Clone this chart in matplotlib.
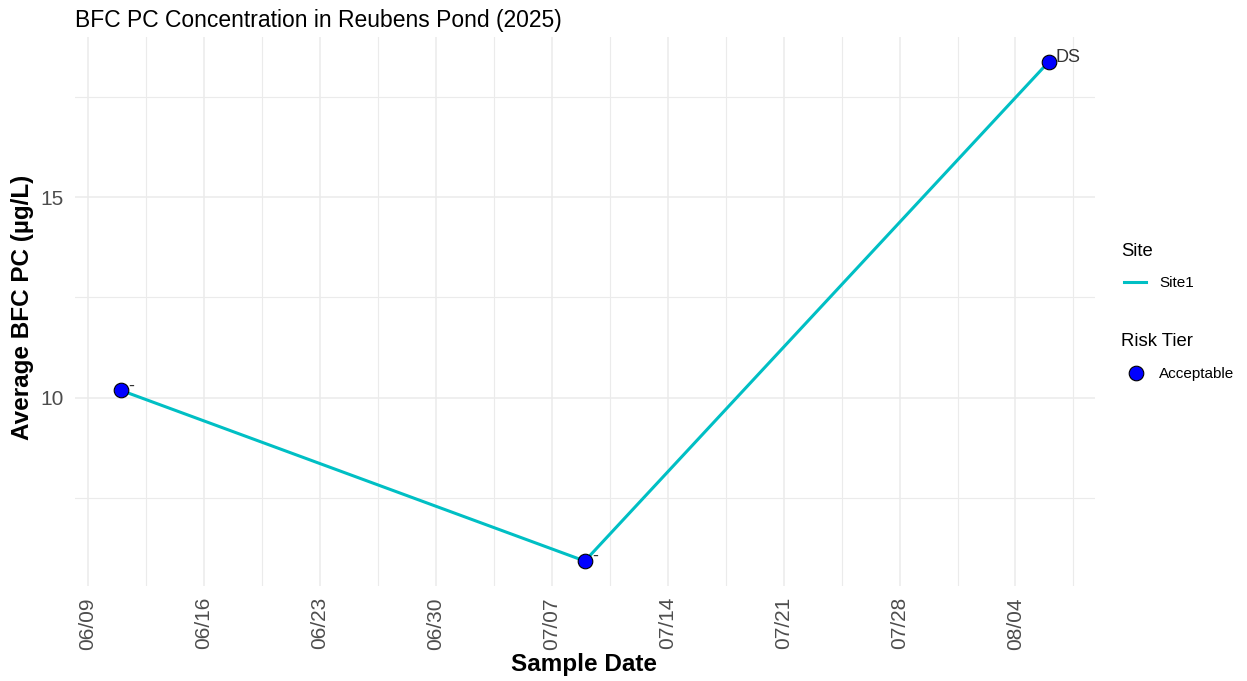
import datetime as dt
import numpy as np
import matplotlib
matplotlib.use("Agg")
import matplotlib.pyplot as plt
import matplotlib.dates as mdates
from matplotlib.lines import Line2D

# data
sample_dates = [dt.date(2025, 6, 11), dt.date(2025, 7, 9), dt.date(2025, 8, 6)]
avg_pc = [10.18, 5.92, 18.38]
point_labels = ["-", "-", "DS"]
site_name = "Site1"
risk_tier = "Acceptable"

plt.rcParams['font.family'] = ['Liberation Sans', 'DejaVu Sans']

W, H = 1247, 681
fig = plt.figure(figsize=(W / 100, H / 100), dpi=100)

# panel in pixel coordinates
left, right, top, bottom = 74.7, 1095, 37, 586
ax = fig.add_axes([left / W, 1 - bottom / H, (right - left) / W, (bottom - top) / H])

x = mdates.date2num(sample_dates)
y = np.array(avg_pc)

# ggplot-like 5% expansion
xr = x.max() - x.min()
yr = y.max() - y.min()

line_col = "#00BFC4"
ax.plot(x, y, color=line_col, lw=2.2, zorder=3, solid_capstyle='butt')
ax.plot(x, y, 'o', ms=10.5, mfc="#0000FF", mec="black", mew=0.8, zorder=4)
for xi, yi, lab in zip(x, y, point_labels):
    ax.annotate(lab, (xi, yi), xytext=(7, 0), textcoords='offset pixels',
                ha='left', va='baseline', fontsize=13, color="#333333", zorder=5)

# ticks and grid
ax.xaxis.set_major_locator(mdates.WeekdayLocator(byweekday=mdates.MO))
ax.xaxis.set_major_formatter(mdates.DateFormatter("%m/%d"))
ax.set_xlim(x.min() - 0.05 * xr, x.max() + 0.05 * xr)
major = ax.get_xticks()
ax.set_xticks(major + 3.5, minor=True)
ax.set_xlim(x.min() - 0.05 * xr, x.max() + 0.05 * xr)
ax.set_ylim(y.min() - 0.05 * yr, y.max() + 0.05 * yr)
ax.set_yticks([10, 15])
ax.set_yticks([7.5, 12.5, 17.5], minor=True)

ax.grid(True, which='major', color="#EBEBEB", lw=1.1)
ax.grid(True, which='minor', color="#EBEBEB", lw=0.8)
ax.set_axisbelow(True)
for s in ax.spines.values():
    s.set_visible(False)
ax.tick_params(which='both', length=0)
ax.tick_params(axis='x', labelsize=15, labelcolor="#4D4D4D", rotation=90, pad=8)
ax.tick_params(axis='y', labelsize=15, labelcolor="#4D4D4D", pad=8)
for t in ax.get_xticklabels():
    t.set_ha('center')
    t.set_va('top')

ph = bottom - top
pw = right - left
ax.set_xlabel("Sample Date", fontsize=17.5, fontweight='bold', va='center')
ax.xaxis.set_label_coords((584 - left) / pw, -(665 - bottom) / ph)
ax.set_ylabel("Average BFC PC (µg/L)", fontsize=17.5, fontweight='bold', va='center')
ax.yaxis.set_label_coords(-(left - 23) / pw, (bottom - 307) / ph)

fig.text(75 / W, 1 - 20 / H, "BFC PC Concentration in Reubens Pond (2025)",
         fontsize=16.5, ha='left', va='center', color="black")

# legends drawn by hand
fig.text(1121 / W, 1 - 252 / H, "Site", fontsize=13.3, ha='left', va='center')
fig.add_artist(Line2D([1124 / W, 1146 / W], [1 - 282 / H, 1 - 282 / H],
                      color=line_col, lw=2.2, transform=fig.transFigure))
fig.text(1159 / W, 1 - 283 / H, site_name, fontsize=11, ha='left', va='center')
fig.text(1121 / W, 1 - 342 / H, "Risk Tier", fontsize=13.3, ha='left', va='center')
fig.add_artist(Line2D([1136 / W], [1 - 373 / H], marker='o', ms=10.5, mfc="#0000FF",
                      mec="black", mew=0.8, transform=fig.transFigure))
fig.text(1159 / W, 1 - 374 / H, risk_tier, fontsize=11, ha='left', va='center')

fig.savefig("out.png", dpi=100, facecolor="white")
